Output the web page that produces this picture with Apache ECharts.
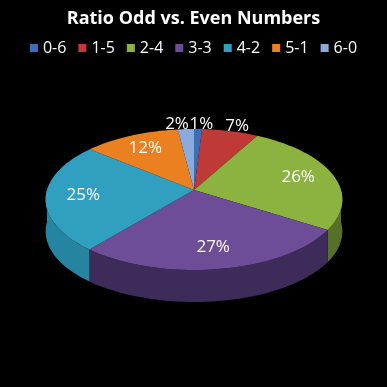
<!DOCTYPE html>
<html><head><meta charset="utf-8">
<script src="https://cdn.jsdelivr.net/npm/echarts@6/dist/echarts.min.js"></script>
<style>html,body{margin:0;padding:0;background:#000}#c{width:387px;height:387px}</style>
</head><body><div id="c"></div>
<script>
const categories = ['0-6','1-5','2-4','3-3','4-2','5-1','6-0'];
const values = [1, 7, 26, 27, 25, 12, 2];
const labels = ['1%','7%','26%','27%','25%','12%','2%'];
const topColors = ['#3a70b8','#bf3a37','#8cb23f','#6d4c98','#31a0c0','#ea8020','#8aabdc'];
const sideColors = ['#24497a','#7e2422','#56702a','#3d2b5a','#2585a0','#a4561a','#5a78a4'];

const total = values.reduce((a,b)=>a+b,0);
// simple perspective projection of a tilted disc
const CX=194, CYC=190, RX=147, PA=43.6, PC=-0.1348, DEPTH=32;
function pt(t, f, dy){
  const r=t*Math.PI/180; const x=Math.sin(r)*f, y=-Math.cos(r)*f;
  const d=1+PC*y;
  return [CX+RX*x/d, (PA*y+CYC)/d+(dy||0)];
}
function arc(a,b,dy){ const pts=[]; const n=Math.max(2,Math.ceil((b-a)/2)); for(let k=0;k<=n;k++) pts.push(pt(a+(b-a)*k/n,1,dy)); return pts; }

function makeRender(i){
  return function(params, api){
    const v = api.value(0);
    let before=0; for(let j=0;j<i;j++) before+=values[j];
    const a = before/total*360, b = (before+v)/total*360;
    const children=[];
    const a0=Math.max(a,90), a1=Math.min(b,270);
    if(a0<a1){
      const top=arc(a0,a1,0), bot=arc(a0,a1,DEPTH).reverse();
      children.push({type:'polygon', shape:{points:top.concat(bot)}, style:{fill:sideColors[i]}, z2:1});
    }
    const face=[pt(0,0,0)].concat(arc(a,b,0));
    children.push({type:'polygon', shape:{points:face}, style:{fill:topColors[i]}, z2:2});
    const frac = v/total;
    const mid=(a+b)/2;
    let lx, ly;
    if(frac>=0.1){ [lx,ly]=pt(mid,0.75,0); }
    else { [lx,ly]=pt(mid,1.12,0); lx += (Math.sin(mid*Math.PI/180)>=0?3:-8); ly += 1; }
    children.push({type:'text', style:{text:labels[i], x:lx, y:ly, fill:'#fff', font:'17px "Open Sans"', align:'center', verticalAlign:'middle'}, z2:3});
    return {type:'group', children};
  };
}

const series = categories.map((name,i)=>({
  name, type:'custom', coordinateSystem:'none', renderItem:makeRender(i),
  itemStyle:{color:topColors[i]}, data:[[values[i]]], silent:true, animation:false
}));

const chart = echarts.init(document.getElementById('c'));
chart.setOption({
  backgroundColor:'#000',
  title:{text:'Ratio Odd vs. Even Numbers', left:'center', top:5, textStyle:{color:'#fff', fontSize:18, fontWeight:'bold', fontFamily:'Open Sans'}},
  legend:{data:categories, top:35, left:'center', icon:'rect', itemWidth:8, itemHeight:8, itemGap:12, textStyle:{color:'#fff', fontSize:16, fontFamily:'Open Sans'}},
  series
});
</script></body></html>
